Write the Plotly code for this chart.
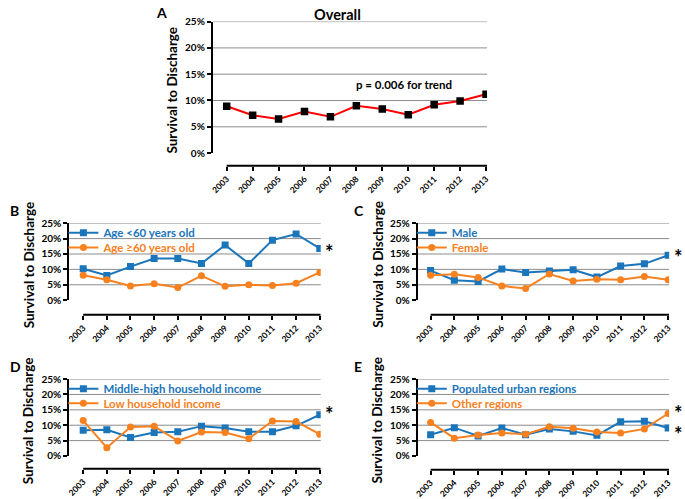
import plotly.graph_objects as go

W, H = 685, 499

YEARS = ["2003", "2004", "2005", "2006", "2007", "2008", "2009", "2010", "2011", "2012", "2013"]

overall = [8.9, 7.2, 6.5, 7.9, 6.9, 9.0, 8.4, 7.3, 9.2, 9.9, 11.2]
age_lt60 = [10.2, 8.0, 10.9, 13.5, 13.5, 11.9, 17.9, 11.9, 19.5, 21.5, 16.8]
age_ge60 = [8.1, 6.6, 4.6, 5.3, 4.1, 7.9, 4.5, 5.0, 4.8, 5.5, 9.0]
male = [9.6, 6.5, 6.1, 10.1, 9.0, 9.5, 9.9, 7.5, 11.1, 11.8, 14.6]
female = [8.1, 8.4, 7.4, 4.6, 3.8, 8.5, 6.2, 6.8, 6.6, 7.7, 6.6]
mid_high_income = [8.4, 8.5, 6.0, 7.6, 7.9, 9.7, 9.1, 7.9, 7.9, 9.8, 13.4]
low_income = [11.5, 2.7, 9.4, 9.7, 4.9, 7.8, 7.6, 5.6, 11.4, 11.2, 7.1]
urban = [6.9, 9.2, 6.5, 9.1, 6.9, 8.8, 8.0, 6.7, 11.1, 11.3, 9.1]
other_regions = [10.9, 5.8, 6.8, 7.5, 7.1, 9.5, 9.0, 7.8, 7.5, 8.8, 13.8]

BLUE = "#1b75bb"
ORANGE = "#f7811e"
FONT = "Lato"

# panel geometry in pixels: y-axis x, first/last category x, grid end, top/bottom of 0-25%, x-axis line y
PANELS = [
    dict(letter="A", L=211, c0=225, c1=487, R=488, top=15, bot=150, axis_y=163),
    dict(letter="B", L=66, c0=80, c1=319, R=320, top=222, bot=301, axis_y=316),
    dict(letter="C", L=418, c0=431, c1=671, R=672, top=222, bot=301, axis_y=316),
    dict(letter="D", L=66, c0=80, c1=319, R=320, top=382, bot=461, axis_y=474),
    dict(letter="E", L=418, c0=431, c1=671, R=672, top=382, bot=461, axis_y=475),
]

# (series, name, color, marker, asterisk?)
SERIES = {
    "B": [(age_lt60, "Age &lt;60 years old", BLUE, "square", True),
          (age_ge60, "Age ≥60 years old", ORANGE, "circle", False)],
    "C": [(male, "Male", BLUE, "square", True),
          (female, "Female", ORANGE, "circle", False)],
    "D": [(mid_high_income, "Middle-high household income", BLUE, "square", True),
          (low_income, "Low household income", ORANGE, "circle", False)],
    "E": [(urban, "Populated urban regions", BLUE, "square", True),
          (other_regions, "Other regions", ORANGE, "circle", True)],
}
# vertical nudge of each significance asterisk (px)
STAR_SHIFT = {"Age &lt;60 years old": -4, "Male": -2, "Middle-high household income": 1,
              "Populated urban regions": -6, "Other regions": 1}


def px(x):
    return x / W


def py(y):
    return 1 - y / H


fig = go.Figure()
layout = dict(
    width=W, height=H, margin=dict(l=0, r=0, t=0, b=0),
    paper_bgcolor="white", plot_bgcolor="white",
    font=dict(family=FONT, color="black"),
    showlegend=True,
)
shapes, annotations = [], []
legend_idx = 1

for i, p in enumerate(PANELS):
    n = "" if i == 0 else str(i + 1)
    xa, ya = "x" + n, "y" + n
    s = (p["c1"] - p["c0"]) / 10
    r0 = -(p["c0"] - p["L"]) / s
    r1 = 10 + (p["R"] - p["c1"]) / s
    pos = py(p["axis_y"])

    layout["xaxis" + n] = dict(
        domain=[px(p["L"]), px(p["R"])], range=[r0, r1], type="category",
        anchor="free", position=pos, showline=False, showgrid=False, zeroline=False,
        ticks="outside", ticklen=4, tickwidth=2, tickcolor="black", tickangle=-45,
        tickfont=dict(size=8.5, family=FONT, weight="bold"),
    )
    layout["yaxis" + n] = dict(
        domain=[py(p["bot"]), py(p["top"])], range=[0, 25], anchor=xa,
        dtick=5, ticksuffix="%", showline=True, linewidth=2, linecolor="black",
        ticks="outside", ticklen=4, tickwidth=2, tickcolor="black",
        showgrid=False, zeroline=False,
        tickfont=dict(size=10, family=FONT, weight="bold"),
    )
    # x-axis line (detached, starts at first category)
    shapes.append(dict(type="line", xref=xa, yref="paper", x0=0, x1=r1, y0=pos, y1=pos,
                       line=dict(color="black", width=2)))
    # horizontal grid lines, none at 0%
    for g in (5, 10, 15, 20, 25):
        shapes.append(dict(type="line", xref=xa + " domain", yref=ya, x0=0, x1=1, y0=g, y1=g,
                           layer="below", line=dict(color="#8c8c8c", width=1)))

    # panel letter
    lx = 152 if p["letter"] == "A" else (4 if p["L"] < 200 else 352)
    ly = 6 if p["letter"] == "A" else p["top"] - 13
    annotations.append(dict(text="<b>%s</b>" % p["letter"], x=px(lx), y=py(ly),
                            xref="paper", yref="paper", xanchor="left", yanchor="middle",
                            showarrow=False, font=dict(size=14, family=FONT)))
    # y-axis title
    tx = p["L"] - 41
    annotations.append(dict(text="<b>Survival to Discharge</b>", x=px(tx), y=py((p["top"] + p["bot"]) / 2 + 3),
                            xref="paper", yref="paper", xanchor="center", yanchor="middle",
                            textangle=-90, showarrow=False, font=dict(size=13.5, family=FONT)))

    if p["letter"] == "A":
        fig.add_trace(go.Scatter(
            x=YEARS, y=overall, xaxis=xa, yaxis=ya, mode="lines+markers",
            line=dict(color="red", width=2), marker=dict(color="black", symbol="square", size=7.5),
            showlegend=False,
        ))
        annotations.append(dict(text="<b>Overall</b>", x=px(337), y=py(8), xref="paper", yref="paper",
                                xanchor="center", yanchor="middle", showarrow=False,
                                font=dict(size=14.5, family=FONT)))
        annotations.append(dict(text="<b>p = 0.006 for trend</b>", x=px(354), y=py(80), xref="paper",
                                yref="paper", xanchor="left", yanchor="middle", showarrow=False,
                                font=dict(size=11.5, family=FONT)))
        continue

    for k, (vals, name, color, sym, star) in enumerate(SERIES[p["letter"]]):
        lg = "legend" if legend_idx == 1 else "legend%d" % legend_idx
        fig.add_trace(go.Scatter(
            x=YEARS, y=vals, xaxis=xa, yaxis=ya, mode="lines+markers", name=name,
            line=dict(color=color, width=2), marker=dict(color=color, symbol=sym, size=7),
            legend=lg,
        ))
        layout[lg] = dict(
            x=px(p["L"] - 6), y=py(p["top"] - 5 + 15 * k), xanchor="left", yanchor="top",
            bgcolor="rgba(0,0,0,0)", borderwidth=0, itemwidth=30,
            font=dict(size=11.5, family=FONT, color=color, weight="bold"),
        )
        legend_idx += 1
        if star:
            annotations.append(dict(text="<b>*</b>", x=10, y=vals[-1], xref=xa, yref=ya,
                                    xanchor="center", yanchor="middle", xshift=10,
                                    yshift=STAR_SHIFT[name], showarrow=False,
                                    font=dict(size=20, family=FONT)))

layout["shapes"] = shapes
layout["annotations"] = annotations
fig.update_layout(**layout)

fig.write_html("out.html", config={"displayModeBar": False},
               post_script="document.body.style.margin='0';")
